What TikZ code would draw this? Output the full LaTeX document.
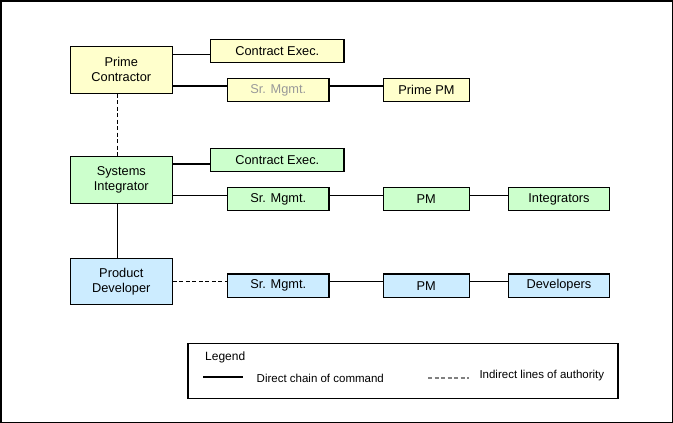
\documentclass[tikz,border=0pt]{standalone}
\usepackage{fontspec}
\setmainfont{Liberation Sans}
\definecolor{yel}{HTML}{FFFFCC}
\definecolor{grn}{HTML}{CCFFCC}
\definecolor{blu}{HTML}{CCECFF}
\definecolor{grtxt}{HTML}{999999}
\definecolor{grline}{HTML}{808080}
\tikzset{
  box/.style={draw=black, line width=1.1pt, inner sep=0pt, align=center,
    font=\fontsize{12.8}{15}\selectfont},
  bigbox/.style={box, minimum width=102pt, minimum height=46.7pt},
  wbox/.style={box, minimum width=133.3pt, minimum height=23.3pt},
  mbox/.style={box, minimum width=101.3pt, minimum height=23.2pt},
  sbox/.style={box, minimum width=85.5pt, minimum height=23.2pt},
  solidln/.style={draw=black, line width=1.1pt},
  dashln/.style={draw=black, line width=1.1pt, dash pattern=on 4pt off 2.5pt},
  legtxt/.style={font=\fontsize{11.5}{13}\selectfont, anchor=west, inner sep=0pt}
}
\begin{document}
\begin{tikzpicture}[x=1pt,y=-1pt]
\useasboundingbox (0,0) rectangle (673,423);
\draw[line width=1.5pt] (0.75,0.75) rectangle (672.25,422.25);

% row 1
\node[bigbox, fill=yel] (pc) at (121.3,69.7) {Prime\\Contractor};
\node[wbox, fill=yel] (ce1) at (277.3,50.7) {Contract Exec.};
\node[mbox, fill=yel, text=grtxt] (sr1) at (278.3,90) {Sr. Mgmt.};
\node[sbox, fill=yel] (ppm) at (426.5,90) {Prime PM};

% row 2
\node[bigbox, fill=grn] (si) at (121.3,179.8) {Systems\\Integrator};
\node[wbox, fill=grn] (ce2) at (277.3,160.2) {Contract Exec.};
\node[mbox, fill=grn] (sr2) at (278.3,199.2) {Sr. Mgmt.};
\node[sbox, fill=grn] (pm2) at (426.3,199.2) {PM};
\node[mbox, fill=grn] (int) at (559,199.2) {Integrators};

% row 3
\node[bigbox, fill=blu] (pd) at (121.3,281.4) {Product\\Developer};
\node[mbox, fill=blu] (sr3) at (278.3,285.6) {Sr. Mgmt.};
\node[sbox, fill=blu] (pm3) at (426.3,285.6) {PM};
\node[mbox, fill=blu] (dev) at (559,285.6) {Developers};

% line levels
\coordinate (l1a) at (0,54.3);
\coordinate (l1b) at (0,86);
\coordinate (l2a) at (0,164);
\coordinate (l2b) at (0,195.3);
\coordinate (l3) at (0,281.7);
\coordinate (vx) at (117.3,0);

\draw[solidln] (pc.east |- l1a) -- (ce1.west |- l1a);
\draw[solidln] (pc.east |- l1b) -- (sr1.west |- l1b);
\draw[solidln] (sr1.east |- l1b) -- (ppm.west |- l1b);

\draw[solidln] (si.east |- l2a) -- (ce2.west |- l2a);
\draw[solidln] (si.east |- l2b) -- (sr2.west |- l2b);
\draw[solidln] (sr2.east |- l2b) -- (pm2.west |- l2b);
\draw[solidln] (pm2.east |- l2b) -- (int.west |- l2b);

\draw[dashln] (pd.east |- l3) -- (sr3.west |- l3);
\draw[solidln] (sr3.east |- l3) -- (pm3.west |- l3);
\draw[solidln] (pm3.east |- l3) -- (dev.west |- l3);

\draw[dashln] (vx |- pc.south) -- (vx |- si.north);
\draw[solidln] (vx |- si.south) -- (vx |- pd.north);

% legend
\node[draw=black, line width=1.1pt, minimum width=430pt, minimum height=55pt, inner sep=0pt] (leg) at (403,371) {};
\node[font=\fontsize{12}{14}\selectfont, anchor=west, inner sep=0pt] (legt) at (205,357) {Legend};
\coordinate (s1) at (203,377);
\coordinate (s2) at (243,377);
\draw[solidln] (s1) -- (s2);
\node[legtxt] (t1) at (256.5,378) {Direct chain of command};
\coordinate (d1) at (428,378);
\coordinate (d2) at (469,378);
\draw[draw=grline, line width=1.1pt, dash pattern=on 4pt off 2.5pt] (d1) -- (d2);
\node[legtxt] (t2) at (479.3,375.5) {Indirect lines of authority};
\end{tikzpicture}
\end{document}
